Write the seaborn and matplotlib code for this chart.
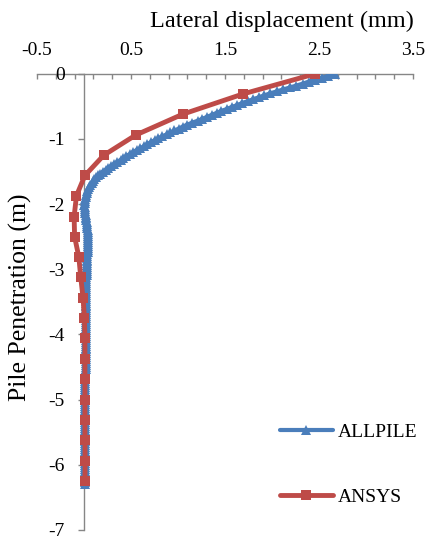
import matplotlib
matplotlib.use("Agg")
import matplotlib.pyplot as plt
import seaborn as sns
import pandas as pd
from matplotlib.ticker import FixedLocator, NullLocator

# ---------------- data ----------------
allpile_depth = [
    0.00, -0.03, -0.06, -0.09, -0.12, -0.15, -0.18, -0.21, -0.24, -0.27,
    -0.30, -0.33, -0.36, -0.39, -0.42, -0.45, -0.48, -0.51, -0.54, -0.57,
    -0.60, -0.63, -0.66, -0.69, -0.72, -0.75, -0.78, -0.81, -0.84, -0.87,
    -0.90, -0.93, -0.96, -0.99, -1.02, -1.05, -1.08, -1.11, -1.14, -1.17,
    -1.20, -1.23, -1.26, -1.29, -1.32, -1.35, -1.38, -1.41, -1.44, -1.47,
    -1.50, -1.53, -1.56, -1.59, -1.62, -1.65, -1.68, -1.71, -1.74, -1.77,
    -1.80, -1.83, -1.86, -1.89, -1.92, -1.95, -1.98, -2.01, -2.04, -2.07,
    -2.10, -2.13, -2.16, -2.19, -2.22, -2.25, -2.28, -2.31, -2.34, -2.37,
    -2.40, -2.43, -2.46, -2.49, -2.52, -2.55, -2.58, -2.61, -2.64, -2.67,
    -2.70, -2.73, -2.76, -2.79, -2.82, -2.85, -2.88, -2.91, -2.94, -2.97,
    -3.00, -3.03, -3.06, -3.09, -3.12, -3.15, -3.18, -3.21, -3.24, -3.27,
    -3.30, -3.33, -3.36, -3.39, -3.42, -3.45, -3.48, -3.51, -3.54, -3.57,
    -3.60, -3.63, -3.66, -3.69, -3.72, -3.75, -3.78, -3.81, -3.84, -3.87,
    -3.90, -3.93, -3.96, -3.99, -4.02, -4.05, -4.08, -4.11, -4.14, -4.17,
    -4.20, -4.23, -4.26, -4.29, -4.32, -4.35, -4.38, -4.41, -4.44, -4.47,
    -4.50, -4.53, -4.56, -4.59, -4.62, -4.65, -4.68, -4.71, -4.74, -4.77,
    -4.80, -4.83, -4.86, -4.89, -4.92, -4.95, -4.98, -5.01, -5.04, -5.07,
    -5.10, -5.13, -5.16, -5.19, -5.22, -5.25, -5.28, -5.31, -5.34, -5.37,
    -5.40, -5.43, -5.46, -5.49, -5.52, -5.55, -5.58, -5.61, -5.64, -5.67,
    -5.70, -5.73, -5.76, -5.79, -5.82, -5.85, -5.88, -5.91, -5.94, -5.97,
    -6.00, -6.03, -6.06, -6.09, -6.12, -6.15, -6.18, -6.21, -6.24, -6.27,
    -6.30,
]
allpile_disp = [
    2.67, 2.60, 2.53, 2.46, 2.39, 2.33, 2.26, 2.19, 2.12, 2.05,
    1.98, 1.92, 1.86, 1.80, 1.74, 1.68, 1.63, 1.57, 1.52, 1.46,
    1.41, 1.36, 1.31, 1.26, 1.21, 1.15, 1.10, 1.05, 1.01, 0.96,
    0.92, 0.88, 0.83, 0.79, 0.75, 0.71, 0.67, 0.64, 0.60, 0.56,
    0.52, 0.49, 0.45, 0.42, 0.39, 0.355, 0.32, 0.29, 0.26, 0.23,
    0.20, 0.175, 0.15, 0.127, 0.11, 0.095, 0.08, 0.066, 0.055, 0.045,
    0.035, 0.029, 0.023, 0.017, 0.013, 0.009, 0.006, 0.005, 0.006, 0.008,
    0.010, 0.013, 0.016, 0.019, 0.022, 0.025, 0.028, 0.031, 0.034, 0.037,
    0.040, 0.042, 0.044, 0.045, 0.046, 0.046, 0.046, 0.045, 0.044, 0.042,
    0.040, 0.039, 0.037, 0.036, 0.034, 0.033, 0.032, 0.031, 0.030, 0.029,
    0.028, 0.028, 0.027, 0.027, 0.026, 0.026, 0.025, 0.025, 0.025, 0.024,
    0.024, 0.024, 0.023, 0.023, 0.023, 0.022, 0.022, 0.022, 0.022, 0.021,
    0.021, 0.021, 0.021, 0.020, 0.020, 0.020, 0.020, 0.020, 0.019, 0.019,
    0.019, 0.019, 0.019, 0.018, 0.018, 0.018, 0.018, 0.018, 0.018, 0.017,
    0.017, 0.017, 0.017, 0.017, 0.017, 0.016, 0.016, 0.016, 0.016, 0.016,
    0.016, 0.016, 0.015, 0.015, 0.015, 0.015, 0.015, 0.015, 0.015, 0.015,
    0.014, 0.014, 0.014, 0.014, 0.014, 0.014, 0.014, 0.014, 0.014, 0.014,
    0.014, 0.014, 0.014, 0.013, 0.013, 0.013, 0.013, 0.013, 0.013, 0.013,
    0.013, 0.013, 0.013, 0.013, 0.012, 0.012, 0.012, 0.012, 0.012, 0.012,
    0.012, 0.012, 0.012, 0.012, 0.012, 0.012, 0.012, 0.012, 0.012, 0.012,
    0.012, 0.012, 0.012, 0.012, 0.012, 0.011, 0.011, 0.011, 0.011, 0.011,
    0.011,
]

ansys_depth = [0.00, -0.31, -0.62, -0.94, -1.25, -1.56, -1.87, -2.19, -2.50,
               -2.81, -3.12, -3.44, -3.75, -4.06, -4.37, -4.69, -5.00, -5.31,
               -5.62, -5.94, -6.25]
ansys_disp = [2.46, 1.69, 1.05, 0.55, 0.21, 0.01, -0.08, -0.105, -0.10,
              -0.055, -0.035, -0.01, 0.005, 0.01, 0.01, 0.01, 0.01, 0.01,
              0.01, 0.012, 0.01]

x_major = [-0.5, 0.5, 1.5, 2.5, 3.5]
x_minor = [-0.3, -0.1, 0.1, 0.3, 0.7, 0.9, 1.1, 1.3, 1.7, 1.9, 2.1, 2.3,
           2.7, 2.9, 3.1, 3.3]
y_ticks = [0, -1, -2, -3, -4, -5, -6, -7]

df_allpile = pd.DataFrame({"disp": allpile_disp, "depth": allpile_depth})
df_ansys = pd.DataFrame({"disp": ansys_disp, "depth": ansys_depth})

# ---------------- style ----------------
sns.set_theme(style="white")
plt.rcParams["font.family"] = ["Liberation Serif", "DejaVu Serif"]

BLUE = "#4A7EBB"
RED = "#BE4B48"
GRAY = "#868686"

W, H = 430, 539
fig = plt.figure(figsize=(W / 100, H / 100), dpi=100)
x0, x1 = 37, 413
y0, y1 = 73.8, 530
ax = fig.add_axes([x0 / W, 1 - y1 / H, (x1 - x0) / W, (y1 - y0) / H])

sns.lineplot(data=df_allpile, x="disp", y="depth", sort=False, estimator=None,
             ax=ax, color=BLUE, linewidth=3.0, marker="^", markersize=6.5,
             markeredgewidth=0, label="ALLPILE",
             solid_capstyle="round", solid_joinstyle="round")
sns.lineplot(data=df_ansys, x="disp", y="depth", sort=False, estimator=None,
             ax=ax, color=RED, linewidth=3.5, marker="s", markersize=7.5,
             markeredgewidth=0, label="ANSYS",
             solid_capstyle="round", solid_joinstyle="round")

ax.set_xlim(-0.5, 3.5)
ax.set_ylim(-7, 0)

# axes / spines
for s in ["bottom", "right"]:
    ax.spines[s].set_visible(False)
ax.spines["top"].set_color(GRAY)
ax.spines["top"].set_linewidth(1.0)
ax.spines["left"].set_color(GRAY)
ax.spines["left"].set_linewidth(1.0)
ax.spines["left"].set_position(("data", 0))
ax.spines["top"].set_zorder(0.5)
ax.spines["left"].set_zorder(0.5)

ax.xaxis.tick_top()
ax.xaxis.set_major_locator(FixedLocator(x_major))
ax.xaxis.set_minor_locator(FixedLocator(x_minor))
ax.set_xticklabels(["-0.5", "0.5", "1.5", "2.5", "3.5"])
ax.tick_params(axis="x", which="both", direction="in", length=3.5, width=1,
               color=GRAY, top=True, bottom=False, labeltop=True,
               labelbottom=False, pad=11, labelsize=14, labelcolor="black")

ax.yaxis.set_major_locator(FixedLocator(y_ticks))
ax.yaxis.set_minor_locator(NullLocator())
ax.set_yticklabels([str(v) for v in y_ticks])
ax.tick_params(axis="y", which="major", direction="out", length=4, width=1,
               color=GRAY, left=True, right=False, pad=10, labelsize=14,
               labelcolor="black")

ax.grid(False)

# axis titles
ax.xaxis.set_label_position("top")
ax.set_xlabel("Lateral displacement (mm)", fontsize=17.5, color="black",
              va="center", ha="center")
ax.xaxis.set_label_coords((281.5 - x0) / (x1 - x0), (y1 - 21.7) / (y1 - y0))
ax.set_ylabel("Pile Penetration (m)", fontsize=18.5, color="black",
              va="center", ha="center")
ax.yaxis.set_label_coords((20 - x0) / (x1 - x0), (y1 - 297) / (y1 - y0))

# legend
leg = ax.legend(loc="center left", bbox_to_anchor=(280 / W, 1 - 464.5 / H),
                bbox_transform=fig.transFigure, frameon=False, fontsize=14,
                handlelength=2.7, handletextpad=0.25, labelspacing=2.45,
                borderpad=0, borderaxespad=0)
for t in leg.get_texts():
    t.set_color("black")

fig.savefig("out.png", dpi=100)
